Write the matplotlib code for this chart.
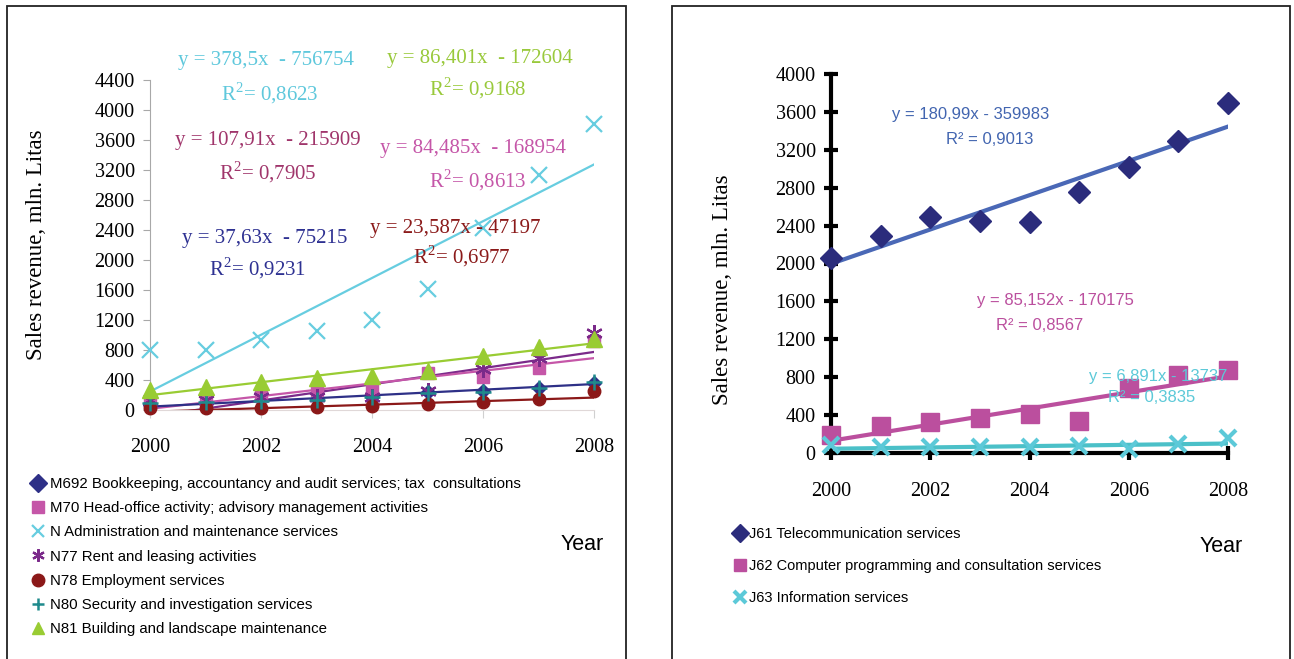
import numpy as np
import matplotlib
matplotlib.use('Agg')
import matplotlib.pyplot as plt
from matplotlib.patches import Rectangle

plt.rcParams['mathtext.fontset'] = 'custom'
plt.rcParams['mathtext.rm'] = 'Liberation Serif'

years = [2000, 2001, 2002, 2003, 2004, 2005, 2006, 2007, 2008]

# left panel: business services
m692 = [70, 100, 130, 150, 180, 240, 260, 290, 360]
m70 = [120, 150, 190, 270, 300, 490, 440, 560, 920]
n_adm = [800, 800, 940, 1060, 1200, 1620, 2430, 3140, 3820]
n77 = [130, 140, 170, 170, 180, 260, 550, 700, 1030]
n78 = [30, 30, 30, 40, 50, 80, 110, 150, 250]
n80 = [100, 110, 120, 140, 180, 230, 240, 300, 380]
n81 = [270, 310, 370, 430, 460, 520, 720, 840, 950]

left_labels = ['M692 Bookkeeping, accountancy and audit services; tax  consultations',
               'M70 Head-office activity; advisory management activities',
               'N Administration and maintenance services',
               'N77 Rent and leasing activities',
               'N78 Employment services',
               'N80 Security and investigation services',
               'N81 Building and landscape maintenance']

# trend equations as printed: (slope, intercept, r2, text)
trend_adm = (378.5, -756754, '0,8623', '378,5x  - 756754')
trend_n81 = (86.401, -172604, '0,9168', '86,401x  - 172604')
trend_n77 = (107.91, -215909, '0,7905', '107,91x  - 215909')
trend_m70 = (84.485, -168954, '0,8613', '84,485x  - 168954')
trend_m692 = (37.63, -75215, '0,9231', '37,63x  - 75215')
trend_n78 = (23.587, -47197, '0,6977', '23,587x - 47197')

# right panel: information and communication
j61 = [2058, 2290, 2490, 2449, 2438, 2755, 3018, 3293, 3694]
j62 = [190, 280, 330, 370, 410, 340, 690, 820, 880]
j63 = [80, 60, 60, 60, 60, 70, 40, 90, 160]
right_labels = ['J61 Telecommunication services',
                'J62 Computer programming and consultation services',
                'J63 Information services']
trend_j61 = (180.99, -359983, '0,9013', '180,99x - 359983')
trend_j62 = (85.152, -170175, '0,8567', '85,152x - 170175')
trend_j63 = (6.891, -13737, '0,3835', '6,891x - 13737')

W, H = 1294, 659
fig = plt.figure(figsize=(W / 100, H / 100), dpi=100)

def px(x, y):
    return x / W, 1 - y / H

SERIF = 'Liberation Serif'
SANS = 'Liberation Sans'

# panel frames
fig.add_artist(Rectangle((7 / W, -0.05), (626 - 7) / W, 1.05 - 6 / H,
                         transform=fig.transFigure, fill=False, ec='#222222', lw=1.3))
fig.add_artist(Rectangle((672 / W, -0.05), (1290 - 672) / W, 1.05 - 6 / H,
                         transform=fig.transFigure, fill=False, ec='#222222', lw=1.3))

# ---------------- left chart ----------------
ax = fig.add_axes([150 / W, 1 - 410 / H, (594 - 150) / W, (410 - 80) / H])
ax.set_xlim(2000, 2008)
ax.set_ylim(0, 4400)

c_navy = '#2E3087'
c_pink = '#C556A8'
c_cyan = '#67CDE0'
c_purple = '#7B2A8A'
c_red = '#8B1818'
c_teal = '#1F8A8C'
c_green = '#99CC33'

xs = np.array([2000, 2008])
def trend(a, t, color, lw=1.6):
    a.plot(xs, t[0] * xs + t[1], color=color, lw=lw, zorder=2)

trend(ax, trend_adm, c_cyan)
trend(ax, trend_n81, c_green)
trend(ax, trend_n77, c_purple)
trend(ax, trend_m70, c_pink)
trend(ax, trend_m692, c_navy)
trend(ax, trend_n78, c_red)

kw = dict(ls='none', clip_on=False, zorder=3)
h1, = ax.plot(years, m692, marker='D', ms=7, color=c_navy, **kw)
h2, = ax.plot(years, m70, marker='s', ms=9, color=c_pink, **kw)
h3, = ax.plot(years, n_adm, marker='x', ms=12, mew=1.6, color=c_cyan, **kw)
h4, = ax.plot(years, n77, marker=(6, 2, 0), ms=12, mew=1.6, color=c_purple, **kw)
h5, = ax.plot(years, n78, marker='o', ms=9, color=c_red, **kw)
h6, = ax.plot(years, n80, marker='+', ms=12, mew=1.8, color=c_teal, **kw)
h7, = ax.plot(years, n81, marker='^', ms=11, color=c_green, **kw)

for s in ['top', 'right']:
    ax.spines[s].set_visible(False)
ax.spines['left'].set_color('#A8A8A8')
ax.spines['bottom'].set_color('#E0D8D8')
ax.set_yticks(np.arange(0, 4401, 400))
ax.set_xticks([2000, 2002, 2004, 2006, 2008])
ax.tick_params(axis='y', colors='#A8A8A8', length=5, labelcolor='black', labelsize=14.5, pad=6)
ax.tick_params(axis='x', colors='#D0D0D0', length=6, labelcolor='black', labelsize=14.5, pad=14)
for lab in ax.get_xticklabels() + ax.get_yticklabels():
    lab.set_fontfamily(SERIF)

fig.text(*px(37, 245), 'Sales revenue, mln. Litas', rotation=90, ha='center', va='center',
         family=SERIF, fontsize=16.5)

def eq(xy1, xy2, t, color, fam, size, sup=True):
    fig.text(*px(*xy1), 'y = ' + t[3], ha='center', va='center', color=color,
             family=fam, fontsize=size)
    if sup:
        r = 'R$^{2}$= ' + t[2]
    else:
        r = 'R² = ' + t[2]
    fig.text(*px(*xy2), r, ha='center', va='center', color=color, family=fam, fontsize=size)

eq((266, 61), (270, 93), trend_adm, '#5FC8DC', SERIF, 15)
eq((480, 58), (478, 88), trend_n81, '#99C93B', SERIF, 15)
eq((268, 140), (268, 172), trend_n77, '#A0356B', SERIF, 15)
eq((473, 149), (478, 180), trend_m70, '#C556A8', SERIF, 15)
eq((265, 239), (258, 268), trend_m692, '#2E3192', SERIF, 15)
eq((455, 228), (462, 256), trend_n78, '#8B1A1A', SERIF, 15)

leg = fig.legend([h1, h2, h3, h4, h5, h6, h7], left_labels, loc='upper left',
                 bbox_to_anchor=px(26, 471), frameon=False, handlelength=0.8,
                 handletextpad=0.4, labelspacing=0.68, borderaxespad=0,
                 prop={'family': SANS, 'size': 10.8})
for h in leg.legend_handles:
    h.set_markersize(9)

fig.text(*px(582, 545), 'Year', ha='center', va='center', family=SANS, fontsize=15.5)

# ---------------- right chart ----------------
ax2 = fig.add_axes([831 / W, 1 - 453 / H, (1228 - 831) / W, (453 - 74) / H])
ax2.set_xlim(2000, 2008)
ax2.set_ylim(0, 4000)

r_navy = '#2B2C7C'
r_blue = '#4A68B6'
r_pink = '#BB4F9E'
r_cyan = '#5CC9D8'
r_teal = '#4BC0C8'

trend(ax2, trend_j61, r_blue, lw=3)
trend(ax2, trend_j62, r_pink, lw=3)
trend(ax2, trend_j63, r_teal, lw=3)
g1, = ax2.plot(years, j61, marker='D', ms=11, color=r_navy, **kw)
g2, = ax2.plot(years, j62, marker='s', ms=13, color=r_pink, **kw)
g3, = ax2.plot(years, j63, marker='x', ms=12, mew=3, color=r_cyan, **kw)

for s in ['top', 'right']:
    ax2.spines[s].set_visible(False)
for s in ['left', 'bottom']:
    ax2.spines[s].set_linewidth(3)
    ax2.spines[s].set_color('black')
ax2.set_yticks(np.arange(0, 4001, 400))
ax2.set_xticks([2000, 2002, 2004, 2006, 2008])
ax2.tick_params(axis='both', direction='inout', length=10, width=3, labelsize=14.5)
ax2.tick_params(axis='x', pad=16)
ax2.tick_params(axis='y', pad=6)
for lab in ax2.get_xticklabels() + ax2.get_yticklabels():
    lab.set_fontfamily(SERIF)

fig.text(*px(722, 290), 'Sales revenue, mln. Litas', rotation=90, ha='center', va='center',
         family=SERIF, fontsize=16.5)

eq((971, 115), (990, 139), trend_j61, '#4265B0', SANS, 12, sup=False)
eq((1055, 301), (1040, 325), trend_j62, '#BB4F9E', SANS, 12, sup=False)
eq((1158, 376), (1152, 398), trend_j63, '#5CC9D8', SANS, 12, sup=False)

leg2 = fig.legend([g1, g2, g3], right_labels, loc='upper left',
                  bbox_to_anchor=px(730, 521), frameon=False, handlelength=0.6,
                  handletextpad=0.3, labelspacing=1.25, borderaxespad=0,
                  prop={'family': SANS, 'size': 10.5})
for h in leg2.legend_handles:
    h.set_markersize(9)

fig.text(*px(1221, 546), 'Year', ha='center', va='center', family=SANS, fontsize=15.5)

fig.savefig('out.png', dpi=100)
